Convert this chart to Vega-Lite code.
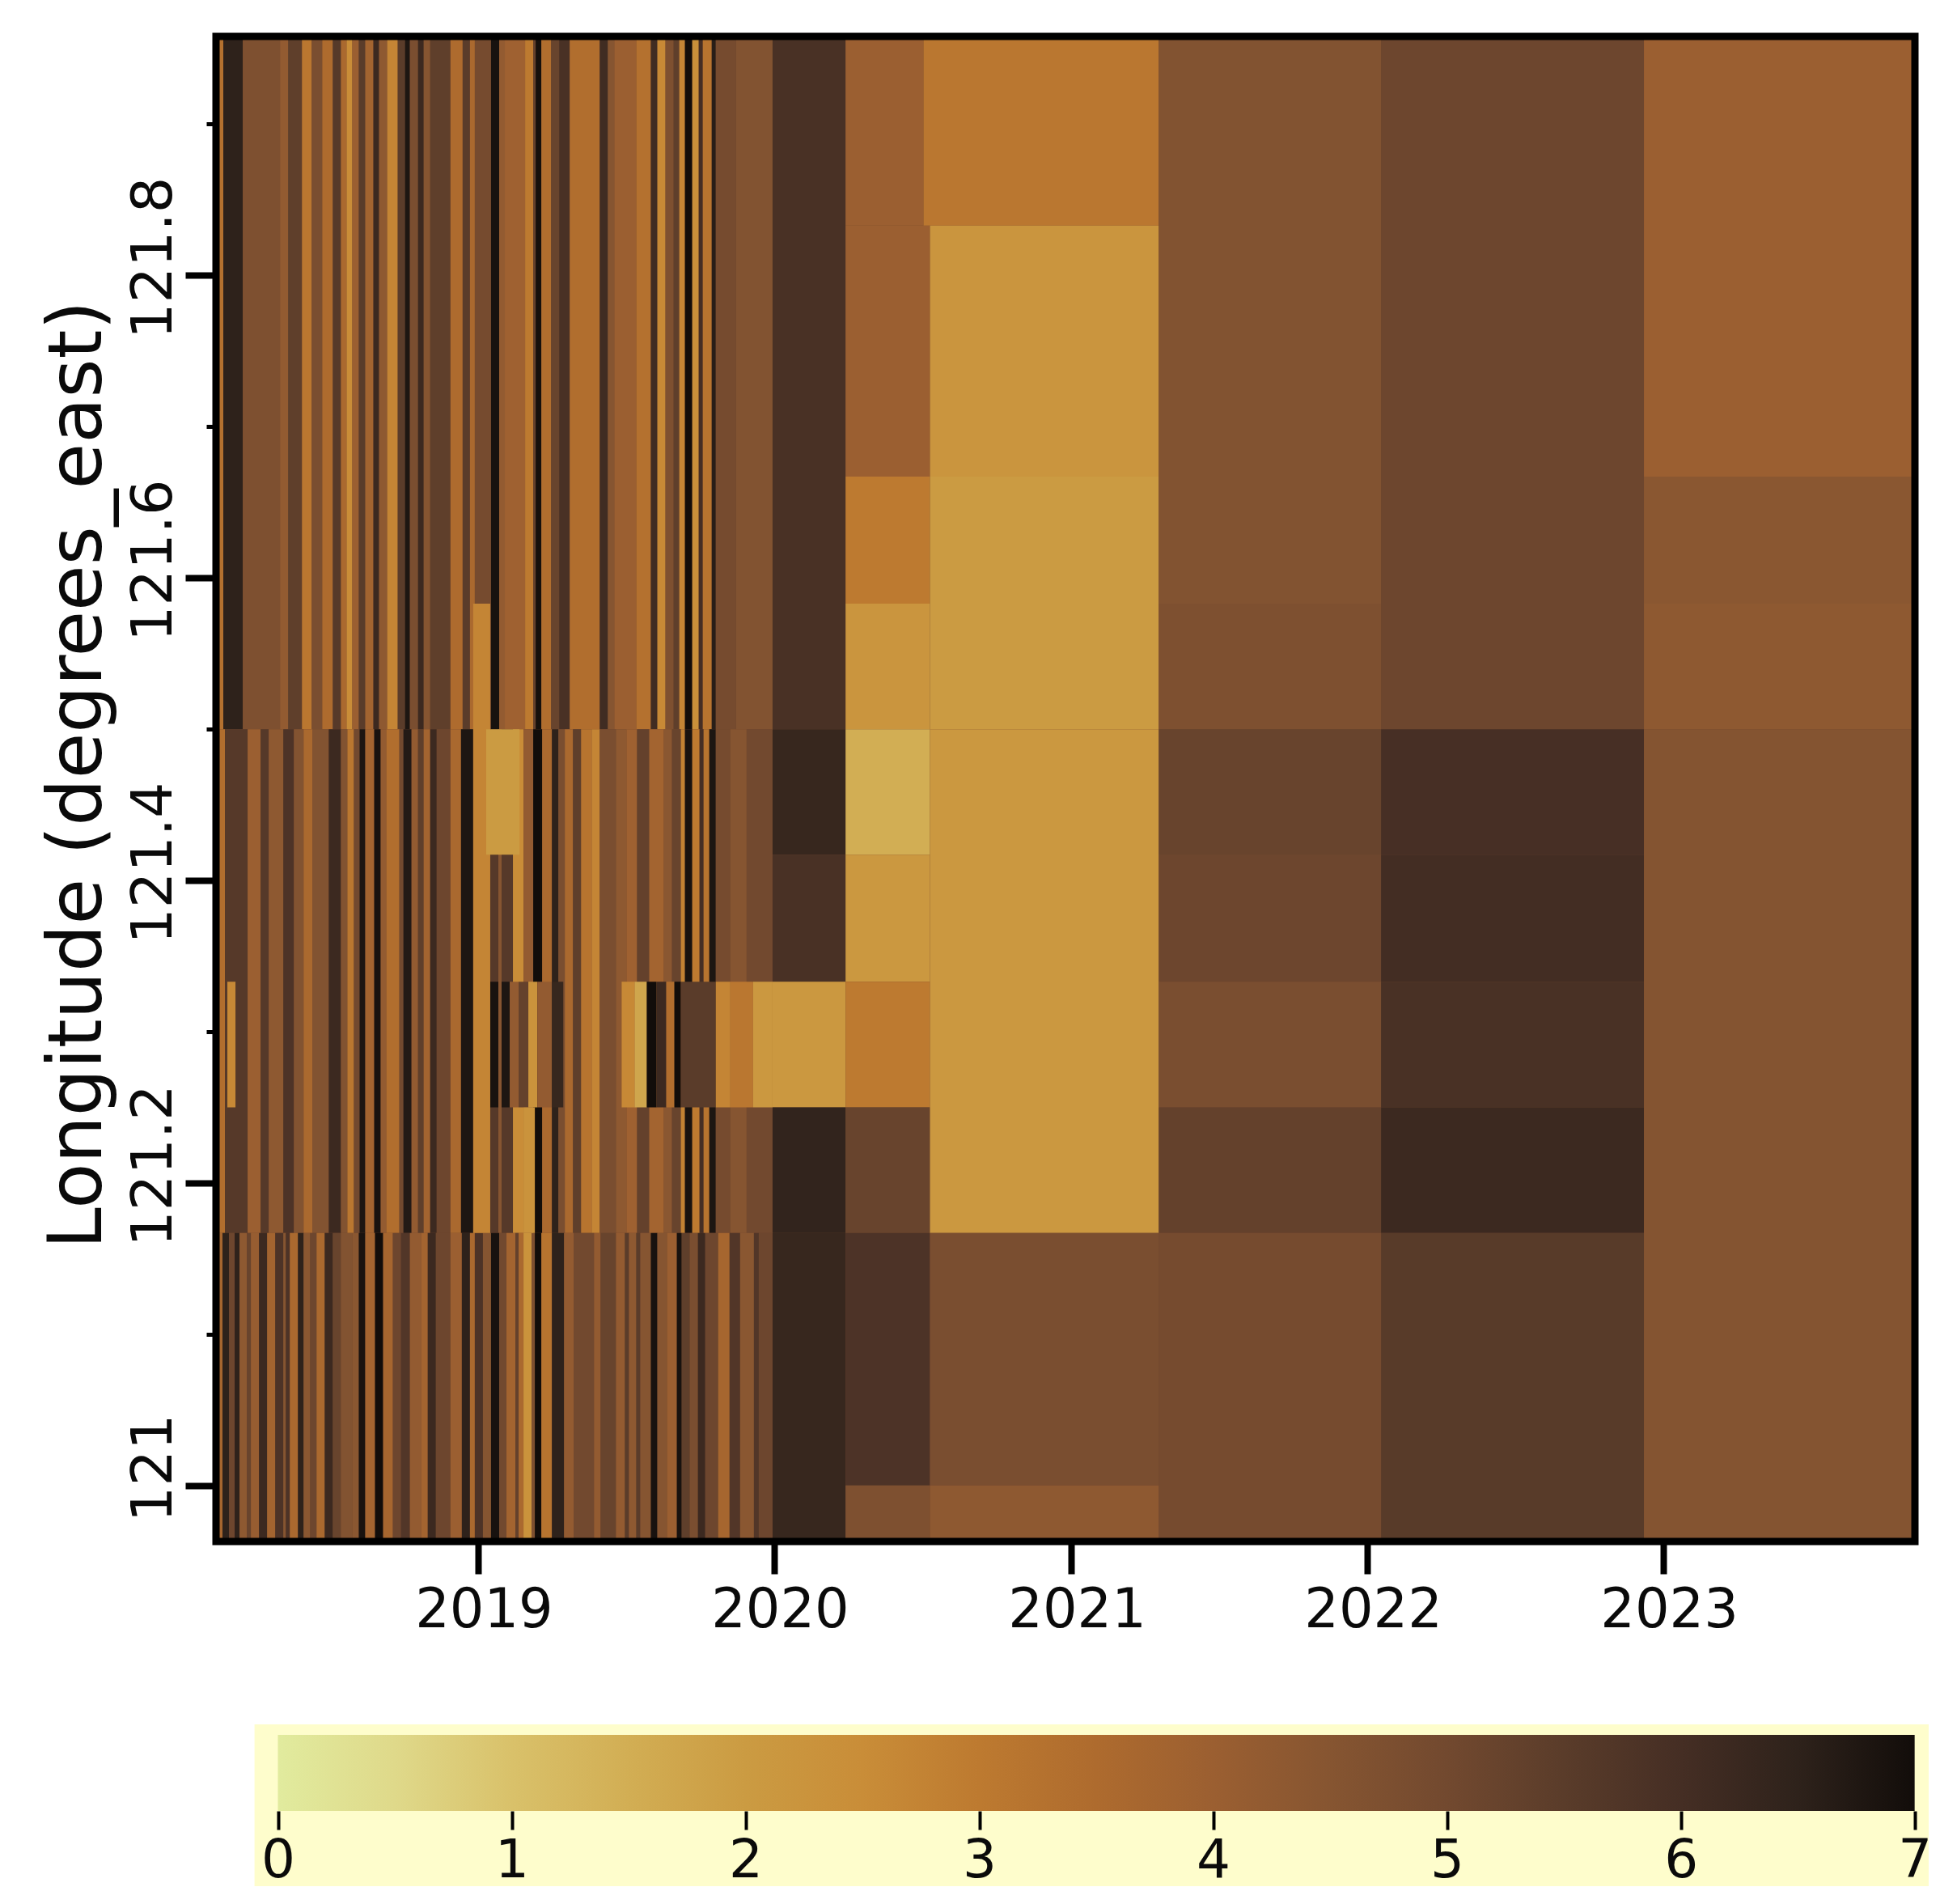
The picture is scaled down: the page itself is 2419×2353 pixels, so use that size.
{"$schema":"https://vega.github.io/schema/vega-lite/v6.json","background":"white","padding":{"left":50,"top":40,"right":0,"bottom":0},"bounds":"flush","spacing":226,"config":{"view":{"stroke":null},"font":"DejaVu Sans","axis":{"labelFont":"DejaVu Sans","titleFont":"DejaVu Sans","labelColor":"#0a0a0a","titleColor":"#0a0a0a"}},"datasets":{"cells":[
{"s":"2018-02-12","e":"2018-02-21","a":121.5,"b":121.958,"v":3.3},{"s":"2018-02-21","e":"2018-03-17","a":121.5,"b":121.958,"v":6.5},{"s":"2018-03-17","e":"2018-05-02","a":121.5,"b":121.958,"v":4.7},{"s":"2018-05-02","e":"2018-05-12","a":121.5,"b":121.958,"v":4.2},{"s":"2018-05-12","e":"2018-05-29","a":121.5,"b":121.958,"v":5.4},{"s":"2018-05-29","e":"2018-06-10","a":121.5,"b":121.958,"v":3.1},{"s":"2018-06-10","e":"2018-06-23","a":121.5,"b":121.958,"v":4.8},{"s":"2018-06-23","e":"2018-07-06","a":121.5,"b":121.958,"v":3.5},{"s":"2018-07-06","e":"2018-07-16","a":121.5,"b":121.958,"v":5.6},{"s":"2018-07-16","e":"2018-07-23","a":121.5,"b":121.958,"v":3.6},{"s":"2018-07-23","e":"2018-07-30","a":121.5,"b":121.958,"v":2.5},{"s":"2018-07-30","e":"2018-08-07","a":121.5,"b":121.958,"v":4.0},{"s":"2018-08-07","e":"2018-08-15","a":121.5,"b":121.958,"v":5.5},{"s":"2018-08-15","e":"2018-08-25","a":121.5,"b":121.958,"v":3.8},{"s":"2018-08-25","e":"2018-09-01","a":121.5,"b":121.958,"v":6.2},{"s":"2018-09-01","e":"2018-09-11","a":121.5,"b":121.958,"v":4.3},{"s":"2018-09-11","e":"2018-09-24","a":121.5,"b":121.958,"v":2.7},{"s":"2018-09-24","e":"2018-10-03","a":121.5,"b":121.958,"v":5.5},{"s":"2018-10-03","e":"2018-10-09","a":121.5,"b":121.958,"v":6.8},{"s":"2018-10-09","e":"2018-10-19","a":121.5,"b":121.958,"v":4.8},{"s":"2018-10-19","e":"2018-10-26","a":121.5,"b":121.958,"v":6.2},{"s":"2018-10-26","e":"2018-11-03","a":121.5,"b":121.958,"v":4.5},{"s":"2018-11-03","e":"2018-11-28","a":121.5,"b":121.958,"v":5.4},{"s":"2018-11-28","e":"2018-12-13","a":121.5,"b":121.958,"v":3.5},{"s":"2018-12-13","e":"2018-12-22","a":121.5,"b":121.958,"v":5.5},{"s":"2018-12-22","e":"2018-12-28","a":121.5,"b":121.958,"v":3.6},{"s":"2018-12-28","e":"2019-01-17","a":121.5,"b":121.958,"v":4.9},{"s":"2019-01-17","e":"2019-01-27","a":121.5,"b":121.958,"v":6.9},{"s":"2019-01-27","e":"2019-02-03","a":121.5,"b":121.958,"v":4.2},{"s":"2019-02-03","e":"2019-02-28","a":121.5,"b":121.958,"v":3.9},{"s":"2019-02-28","e":"2019-03-10","a":121.5,"b":121.958,"v":3.0},{"s":"2019-03-10","e":"2019-03-13","a":121.5,"b":121.958,"v":5.3},{"s":"2019-03-13","e":"2019-03-20","a":121.5,"b":121.958,"v":6.95},{"s":"2019-03-20","e":"2019-04-01","a":121.5,"b":121.958,"v":3.4},{"s":"2019-04-01","e":"2019-04-11","a":121.5,"b":121.958,"v":5.2},{"s":"2019-04-11","e":"2019-04-24","a":121.5,"b":121.958,"v":5.9},{"s":"2019-04-24","e":"2019-05-31","a":121.5,"b":121.958,"v":3.4},{"s":"2019-05-31","e":"2019-06-10","a":121.5,"b":121.958,"v":6.1},{"s":"2019-06-10","e":"2019-06-18","a":121.5,"b":121.958,"v":4.5},{"s":"2019-06-18","e":"2019-07-15","a":121.5,"b":121.958,"v":4.0},{"s":"2019-07-15","e":"2019-08-02","a":121.5,"b":121.958,"v":3.3},{"s":"2019-08-02","e":"2019-08-10","a":121.5,"b":121.958,"v":6.1},{"s":"2019-08-10","e":"2019-08-20","a":121.5,"b":121.958,"v":2.6},{"s":"2019-08-20","e":"2019-08-30","a":121.5,"b":121.958,"v":4.7},{"s":"2019-08-30","e":"2019-09-06","a":121.5,"b":121.958,"v":5.4},{"s":"2019-09-06","e":"2019-09-13","a":121.5,"b":121.958,"v":2.7},{"s":"2019-09-13","e":"2019-09-22","a":121.5,"b":121.958,"v":7},{"s":"2019-09-22","e":"2019-09-30","a":121.5,"b":121.958,"v":2.4},{"s":"2019-09-30","e":"2019-10-05","a":121.5,"b":121.958,"v":6},{"s":"2019-10-05","e":"2019-10-16","a":121.5,"b":121.958,"v":3.2},{"s":"2019-10-16","e":"2019-10-21","a":121.5,"b":121.958,"v":6.6},{"s":"2019-10-21","e":"2019-11-15","a":121.5,"b":121.958,"v":4.9},{"s":"2019-11-15","e":"2019-12-30","a":121.5,"b":121.958,"v":4.6},
{"s":"2018-02-12","e":"2018-02-23","a":121.167,"b":121.5,"v":3.4},{"s":"2018-02-23","e":"2018-03-23","a":121.167,"b":121.5,"v":5.6},{"s":"2018-03-23","e":"2018-04-08","a":121.167,"b":121.5,"v":4.0},{"s":"2018-04-08","e":"2018-04-18","a":121.167,"b":121.5,"v":5.6},{"s":"2018-04-18","e":"2018-05-06","a":121.167,"b":121.5,"v":4.3},{"s":"2018-05-06","e":"2018-05-19","a":121.167,"b":121.5,"v":5.8},{"s":"2018-05-19","e":"2018-05-31","a":121.167,"b":121.5,"v":4.6},{"s":"2018-05-31","e":"2018-06-11","a":121.167,"b":121.5,"v":3.6},{"s":"2018-06-11","e":"2018-07-01","a":121.167,"b":121.5,"v":4.6},{"s":"2018-07-01","e":"2018-07-16","a":121.167,"b":121.5,"v":6.2},{"s":"2018-07-16","e":"2018-07-24","a":121.167,"b":121.5,"v":4.6},{"s":"2018-07-24","e":"2018-08-01","a":121.167,"b":121.5,"v":3.1},{"s":"2018-08-01","e":"2018-08-08","a":121.167,"b":121.5,"v":5},{"s":"2018-08-08","e":"2018-08-15","a":121.167,"b":121.5,"v":6.8},{"s":"2018-08-15","e":"2018-08-26","a":121.167,"b":121.5,"v":3.8},{"s":"2018-08-26","e":"2018-09-03","a":121.167,"b":121.5,"v":6.9},{"s":"2018-09-03","e":"2018-09-10","a":121.167,"b":121.5,"v":4.2},{"s":"2018-09-10","e":"2018-09-26","a":121.167,"b":121.5,"v":3.4},{"s":"2018-09-26","e":"2018-10-01","a":121.167,"b":121.5,"v":5},{"s":"2018-10-01","e":"2018-10-11","a":121.167,"b":121.5,"v":6.7},{"s":"2018-10-11","e":"2018-10-19","a":121.167,"b":121.5,"v":4.2},{"s":"2018-10-19","e":"2018-10-26","a":121.167,"b":121.5,"v":5.4},{"s":"2018-10-26","e":"2018-11-03","a":121.167,"b":121.5,"v":3.8},{"s":"2018-11-03","e":"2018-11-11","a":121.167,"b":121.5,"v":6.2},{"s":"2018-11-11","e":"2018-11-28","a":121.167,"b":121.5,"v":5.1},{"s":"2018-11-28","e":"2018-12-11","a":121.167,"b":121.5,"v":3.6},{"s":"2018-12-11","e":"2018-12-26","a":121.167,"b":121.5,"v":6.8},{"s":"2018-12-26","e":"2019-01-16","a":121.167,"b":121.5,"v":5},{"s":"2019-01-16","e":"2019-01-26","a":121.167,"b":121.5,"v":5.6},{"s":"2019-01-26","e":"2019-01-30","a":121.167,"b":121.5,"v":4.5},{"s":"2019-01-30","e":"2019-02-13","a":121.167,"b":121.5,"v":5.6},{"s":"2019-02-13","e":"2019-02-26","a":121.167,"b":121.5,"v":2.5},{"s":"2019-02-26","e":"2019-03-10","a":121.167,"b":121.5,"v":4.2},{"s":"2019-03-10","e":"2019-03-21","a":121.167,"b":121.5,"v":7},{"s":"2019-03-21","e":"2019-04-02","a":121.167,"b":121.5,"v":3.6},{"s":"2019-04-02","e":"2019-04-10","a":121.167,"b":121.5,"v":6.5},{"s":"2019-04-10","e":"2019-04-18","a":121.167,"b":121.5,"v":4.8},{"s":"2019-04-18","e":"2019-04-28","a":121.167,"b":121.5,"v":3.6},{"s":"2019-04-28","e":"2019-05-08","a":121.167,"b":121.5,"v":5.4},{"s":"2019-05-08","e":"2019-05-21","a":121.167,"b":121.5,"v":3.2},{"s":"2019-05-21","e":"2019-05-31","a":121.167,"b":121.5,"v":2.7},{"s":"2019-05-31","e":"2019-06-20","a":121.167,"b":121.5,"v":4.8},{"s":"2019-06-20","e":"2019-07-03","a":121.167,"b":121.5,"v":4.3},{"s":"2019-07-03","e":"2019-07-16","a":121.167,"b":121.5,"v":3.9},{"s":"2019-07-16","e":"2019-07-31","a":121.167,"b":121.5,"v":5.3},{"s":"2019-07-31","e":"2019-08-18","a":121.167,"b":121.5,"v":3.8},{"s":"2019-08-18","e":"2019-08-28","a":121.167,"b":121.5,"v":4.4},{"s":"2019-08-28","e":"2019-09-08","a":121.167,"b":121.5,"v":5.2},{"s":"2019-09-08","e":"2019-09-13","a":121.167,"b":121.5,"v":2.8},{"s":"2019-09-13","e":"2019-09-22","a":121.167,"b":121.5,"v":6.9},{"s":"2019-09-22","e":"2019-10-01","a":121.167,"b":121.5,"v":3},{"s":"2019-10-01","e":"2019-10-06","a":121.167,"b":121.5,"v":6},{"s":"2019-10-06","e":"2019-10-13","a":121.167,"b":121.5,"v":3.2},{"s":"2019-10-13","e":"2019-10-21","a":121.167,"b":121.5,"v":6.8},{"s":"2019-10-21","e":"2019-11-08","a":121.167,"b":121.5,"v":4.9},{"s":"2019-11-08","e":"2019-11-28","a":121.167,"b":121.5,"v":4.5},{"s":"2019-11-28","e":"2019-12-30","a":121.167,"b":121.5,"v":5},
{"s":"2018-02-12","e":"2018-02-20","a":120.963,"b":121.167,"v":3.7},{"s":"2018-02-20","e":"2018-02-28","a":120.963,"b":121.167,"v":6.5},{"s":"2018-02-28","e":"2018-03-07","a":120.963,"b":121.167,"v":5.1},{"s":"2018-03-07","e":"2018-03-13","a":120.963,"b":121.167,"v":6.5},{"s":"2018-03-13","e":"2018-03-22","a":120.963,"b":121.167,"v":4.3},{"s":"2018-03-22","e":"2018-03-27","a":120.963,"b":121.167,"v":5.2},{"s":"2018-03-27","e":"2018-04-06","a":120.963,"b":121.167,"v":4.1},{"s":"2018-04-06","e":"2018-04-16","a":120.963,"b":121.167,"v":6.2},{"s":"2018-04-16","e":"2018-04-26","a":120.963,"b":121.167,"v":3.8},{"s":"2018-04-26","e":"2018-05-06","a":120.963,"b":121.167,"v":5.8},{"s":"2018-05-06","e":"2018-05-09","a":120.963,"b":121.167,"v":4.5},{"s":"2018-05-09","e":"2018-05-14","a":120.963,"b":121.167,"v":5.8},{"s":"2018-05-14","e":"2018-05-24","a":120.963,"b":121.167,"v":3.6},{"s":"2018-05-24","e":"2018-05-31","a":120.963,"b":121.167,"v":6.5},{"s":"2018-05-31","e":"2018-06-08","a":120.963,"b":121.167,"v":4.4},{"s":"2018-06-08","e":"2018-06-16","a":120.963,"b":121.167,"v":5.1},{"s":"2018-06-16","e":"2018-06-26","a":120.963,"b":121.167,"v":3.6},{"s":"2018-06-26","e":"2018-07-06","a":120.963,"b":121.167,"v":6.2},{"s":"2018-07-06","e":"2018-07-16","a":120.963,"b":121.167,"v":5.2},{"s":"2018-07-16","e":"2018-07-30","a":120.963,"b":121.167,"v":4.6},{"s":"2018-07-30","e":"2018-08-07","a":120.963,"b":121.167,"v":4.4},{"s":"2018-08-07","e":"2018-08-15","a":120.963,"b":121.167,"v":6.9},{"s":"2018-08-15","e":"2018-08-27","a":120.963,"b":121.167,"v":3.8},{"s":"2018-08-27","e":"2018-09-06","a":120.963,"b":121.167,"v":7},{"s":"2018-09-06","e":"2018-09-18","a":120.963,"b":121.167,"v":3.7},{"s":"2018-09-18","e":"2018-09-28","a":120.963,"b":121.167,"v":5.1},{"s":"2018-09-28","e":"2018-10-09","a":120.963,"b":121.167,"v":5.7},{"s":"2018-10-09","e":"2018-10-23","a":120.963,"b":121.167,"v":4.2},{"s":"2018-10-23","e":"2018-10-31","a":120.963,"b":121.167,"v":3.8},{"s":"2018-10-31","e":"2018-11-10","a":120.963,"b":121.167,"v":6.2},{"s":"2018-11-10","e":"2018-11-28","a":120.963,"b":121.167,"v":5.1},{"s":"2018-11-28","e":"2018-12-12","a":120.963,"b":121.167,"v":4.0},{"s":"2018-12-12","e":"2018-12-22","a":120.963,"b":121.167,"v":6.5},{"s":"2018-12-22","e":"2018-12-28","a":120.963,"b":121.167,"v":3.6},{"s":"2018-12-28","e":"2019-01-07","a":120.963,"b":121.167,"v":5.8},{"s":"2019-01-07","e":"2019-01-17","a":120.963,"b":121.167,"v":4.5},{"s":"2019-01-17","e":"2019-01-27","a":120.963,"b":121.167,"v":6.9},{"s":"2019-01-27","e":"2019-02-05","a":120.963,"b":121.167,"v":5},{"s":"2019-02-05","e":"2019-02-16","a":120.963,"b":121.167,"v":3.8},{"s":"2019-02-16","e":"2019-02-20","a":120.963,"b":121.167,"v":5.3},{"s":"2019-02-20","e":"2019-02-26","a":120.963,"b":121.167,"v":3.6},{"s":"2019-02-26","e":"2019-03-08","a":120.963,"b":121.167,"v":2.3},{"s":"2019-03-08","e":"2019-03-12","a":120.963,"b":121.167,"v":4.7},{"s":"2019-03-12","e":"2019-03-20","a":120.963,"b":121.167,"v":7},{"s":"2019-03-20","e":"2019-04-02","a":120.963,"b":121.167,"v":3.2},{"s":"2019-04-02","e":"2019-04-17","a":120.963,"b":121.167,"v":6.5},{"s":"2019-04-17","e":"2019-04-29","a":120.963,"b":121.167,"v":4.2},{"s":"2019-04-29","e":"2019-05-24","a":120.963,"b":121.167,"v":5},{"s":"2019-05-24","e":"2019-06-01","a":120.963,"b":121.167,"v":4.2},{"s":"2019-06-01","e":"2019-06-20","a":120.963,"b":121.167,"v":5.2},{"s":"2019-06-20","e":"2019-07-01","a":120.963,"b":121.167,"v":4.2},{"s":"2019-07-01","e":"2019-07-06","a":120.963,"b":121.167,"v":5.5},{"s":"2019-07-06","e":"2019-07-15","a":120.963,"b":121.167,"v":4.3},{"s":"2019-07-15","e":"2019-07-20","a":120.963,"b":121.167,"v":5.5},{"s":"2019-07-20","e":"2019-08-02","a":120.963,"b":121.167,"v":4.5},{"s":"2019-08-02","e":"2019-08-10","a":120.963,"b":121.167,"v":6.9},{"s":"2019-08-10","e":"2019-08-22","a":120.963,"b":121.167,"v":4.5},{"s":"2019-08-22","e":"2019-09-03","a":120.963,"b":121.167,"v":4.0},{"s":"2019-09-03","e":"2019-09-09","a":120.963,"b":121.167,"v":6.9},{"s":"2019-09-09","e":"2019-09-19","a":120.963,"b":121.167,"v":5.4},{"s":"2019-09-19","e":"2019-09-29","a":120.963,"b":121.167,"v":4.8},{"s":"2019-09-29","e":"2019-10-08","a":120.963,"b":121.167,"v":6.2},{"s":"2019-10-08","e":"2019-10-24","a":120.963,"b":121.167,"v":5.1},{"s":"2019-10-24","e":"2019-11-07","a":120.963,"b":121.167,"v":3.7},{"s":"2019-11-07","e":"2019-11-20","a":120.963,"b":121.167,"v":5.7},{"s":"2019-11-20","e":"2019-12-07","a":120.963,"b":121.167,"v":4.4},{"s":"2019-12-07","e":"2019-12-13","a":120.963,"b":121.167,"v":5.7},{"s":"2019-12-13","e":"2019-12-30","a":120.963,"b":121.167,"v":5.1},
{"s":"2018-02-26","e":"2018-03-08","a":121.25,"b":121.333,"v":2.6},{"s":"2019-01-16","e":"2019-01-26","a":121.25,"b":121.333,"v":6.9},{"s":"2019-01-30","e":"2019-02-09","a":121.25,"b":121.333,"v":6.8},{"s":"2019-02-09","e":"2019-02-20","a":121.25,"b":121.333,"v":4.2},{"s":"2019-02-20","e":"2019-03-04","a":121.25,"b":121.333,"v":5.3},{"s":"2019-03-04","e":"2019-03-15","a":121.25,"b":121.333,"v":2.3},{"s":"2019-03-15","e":"2019-04-02","a":121.25,"b":121.333,"v":4.2},{"s":"2019-04-02","e":"2019-04-16","a":121.25,"b":121.333,"v":6.3},{"s":"2019-06-27","e":"2019-07-13","a":121.25,"b":121.333,"v":2.6},{"s":"2019-07-13","e":"2019-07-28","a":121.25,"b":121.333,"v":1.7},{"s":"2019-07-28","e":"2019-08-09","a":121.25,"b":121.333,"v":7},{"s":"2019-08-09","e":"2019-08-21","a":121.25,"b":121.333,"v":6.2},{"s":"2019-08-21","e":"2019-08-31","a":121.25,"b":121.333,"v":3.4},{"s":"2019-08-31","e":"2019-09-08","a":121.25,"b":121.333,"v":7},{"s":"2019-09-08","e":"2019-10-21","a":121.25,"b":121.333,"v":5.5},{"s":"2019-10-21","e":"2019-11-08","a":121.25,"b":121.333,"v":2.7},{"s":"2019-11-08","e":"2019-12-06","a":121.25,"b":121.333,"v":3.1},{"s":"2019-12-06","e":"2019-12-30","a":121.25,"b":121.333,"v":2.1},
{"s":"2018-12-26","e":"2019-01-16","a":121.167,"b":121.583,"v":2.7},{"s":"2019-01-11","e":"2019-02-21","a":121.417,"b":121.5,"v":2.0},{"s":"2019-02-26","e":"2019-03-12","a":121.167,"b":121.25,"v":2.3},
{"s":"2019-12-30","e":"2020-03-29","a":121.5,"b":121.958,"v":5.9},{"s":"2019-12-30","e":"2020-03-29","a":121.417,"b":121.5,"v":6.3},{"s":"2019-12-30","e":"2020-03-29","a":121.333,"b":121.417,"v":5.9},{"s":"2019-12-30","e":"2020-03-29","a":121.25,"b":121.333,"v":2.1},{"s":"2019-12-30","e":"2020-03-29","a":121.167,"b":121.25,"v":6.4},{"s":"2019-12-30","e":"2020-03-29","a":120.963,"b":121.167,"v":6.3},
{"s":"2020-03-29","e":"2020-07-03","a":121.833,"b":121.958,"v":4.0},{"s":"2020-03-29","e":"2020-07-11","a":121.667,"b":121.833,"v":4.0},{"s":"2020-03-29","e":"2020-07-11","a":121.583,"b":121.667,"v":3.0},{"s":"2020-03-29","e":"2020-07-11","a":121.5,"b":121.583,"v":2.2},{"s":"2020-03-29","e":"2020-07-11","a":121.417,"b":121.5,"v":1.5},{"s":"2020-03-29","e":"2020-07-11","a":121.333,"b":121.417,"v":2.1},{"s":"2020-03-29","e":"2020-07-11","a":121.25,"b":121.333,"v":3.0},{"s":"2020-03-29","e":"2020-07-11","a":121.167,"b":121.25,"v":5.2},{"s":"2020-03-29","e":"2020-07-11","a":121,"b":121.167,"v":5.8},{"s":"2020-03-29","e":"2020-07-11","a":120.963,"b":121,"v":4.7},
{"s":"2020-07-03","e":"2021-04-19","a":121.833,"b":121.958,"v":3.1},{"s":"2020-07-11","e":"2021-04-19","a":121.667,"b":121.833,"v":2.2},{"s":"2020-07-11","e":"2021-04-19","a":121.5,"b":121.667,"v":2.0},{"s":"2020-07-11","e":"2021-04-19","a":121.167,"b":121.5,"v":2.1},{"s":"2020-07-11","e":"2021-04-19","a":121,"b":121.167,"v":4.8},{"s":"2020-07-11","e":"2021-04-19","a":120.963,"b":121,"v":4.3},
{"s":"2021-04-19","e":"2022-01-18","a":121.583,"b":121.958,"v":4.6},{"s":"2021-04-19","e":"2022-01-18","a":121.5,"b":121.583,"v":4.7},{"s":"2021-04-19","e":"2022-01-18","a":121.417,"b":121.5,"v":5.2},{"s":"2021-04-19","e":"2022-01-18","a":121.333,"b":121.417,"v":5.1},{"s":"2021-04-19","e":"2022-01-18","a":121.25,"b":121.333,"v":4.8},{"s":"2021-04-19","e":"2022-01-18","a":121.167,"b":121.25,"v":5.3},{"s":"2021-04-19","e":"2022-01-18","a":120.963,"b":121.167,"v":4.9},
{"s":"2022-01-18","e":"2022-12-08","a":121.5,"b":121.958,"v":5.1},{"s":"2022-01-18","e":"2022-12-08","a":121.417,"b":121.5,"v":5.95},{"s":"2022-01-18","e":"2022-12-08","a":121.333,"b":121.417,"v":6.05},{"s":"2022-01-18","e":"2022-12-08","a":121.25,"b":121.333,"v":5.9},{"s":"2022-01-18","e":"2022-12-08","a":121.167,"b":121.25,"v":6.2},{"s":"2022-01-18","e":"2022-12-08","a":120.963,"b":121.167,"v":5.55},
{"s":"2022-12-08","e":"2023-11-07","a":121.667,"b":121.958,"v":4.0},{"s":"2022-12-08","e":"2023-11-07","a":121.583,"b":121.667,"v":4.4},{"s":"2022-12-08","e":"2023-11-07","a":121.5,"b":121.583,"v":4.3},{"s":"2022-12-08","e":"2023-11-07","a":120.963,"b":121.5,"v":4.55}
]},"vconcat":[{"width":2100,"height":1860,"view":{"fill":"#6f462f"},"layer":[{"data":{"name":"cells"},"mark":{"type":"rect","strokeWidth":0},"encoding":{"x":{"field":"s","type":"temporal","scale":{"type":"utc","domain":["2018-02-12","2023-11-07"]},"axis":{"format":"%Y","tickCount":{"interval":"year","step":1},"grid":false,"domain":false,"title":null,"tickSize":40,"tickWidth":8,"tickColor":"#000","labelFontSize":67,"labelPadding":12,"labelOffset":7,"labelFlush":false,"labelOverlap":false}},"x2":{"field":"e"},"y":{"field":"a","type":"quantitative","scale":{"domain":[120.963,121.958],"nice":false,"zero":false},"axis":{"values":[121,121.1,121.2,121.3,121.4,121.5,121.6,121.7,121.8,121.9],"labelExpr":"round(datum.value*10)%2==0 ? format(datum.value,'~f') : ''","grid":false,"domain":false,"title":"Longitude (degrees_east)","titleFontSize":92,"titleFontWeight":"normal","titleBaseline":"alphabetic","titleX":-143,"titleY":912,"tickSize":{"condition":{"test":"round(datum.value*10)%2==0","value":38},"value":12},"tickWidth":{"condition":{"test":"round(datum.value*10)%2==0","value":8},"value":5},"tickColor":"#000","labelFontSize":70,"labelLimit":500,"labelAngle":-90,"labelAlign":"center","labelBaseline":"bottom","labelPadding":3,"labelOffset":-22,"labelFlush":false,"labelOverlap":false}},"y2":{"field":"b"},"color":{"field":"v","type":"quantitative","legend":null,"scale":{"domain":[0,0.5,1,1.5,2,2.5,3,3.5,4,4.5,5,5.5,6,6.5,7],"range":["#e1eb9e","#dfd98a","#d9c16a","#d2ae54","#cb9b42","#c98d38","#bd7a30","#ae6b2e","#9b5f31","#865531","#72492f","#5a3c2a","#452e24","#2e221b","#120d0a"]}}}},{"data":{"values":[{"frame":"plot"}]},"mark":{"type":"rect","filled":false,"stroke":"#000","strokeWidth":9},"encoding":{"x":{"datum":{"year":2018,"month":2,"date":12,"utc":true},"type":"temporal"},"x2":{"datum":{"year":2023,"month":11,"date":7,"utc":true}},"y":{"datum":120.963,"type":"quantitative"},"y2":{"datum":121.958}}}]},{"width":2117,"height":200,"data":{"values":[{"part":"bar"}]},"layer":[{"mark":{"type":"rect","color":"#fefdcc","strokeWidth":0},"encoding":{"x":{"datum":-0.1,"type":"quantitative","scale":{"domain":[-0.2647,7.06],"nice":false,"zero":false},"axis":{"values":[0,1,2,3,4,5,6,7],"format":"d","orient":"bottom","offset":-93,"domain":false,"grid":false,"title":null,"zindex":1,"tickSize":23,"tickWidth":4,"tickColor":"#000","labelFontSize":66,"labelPadding":6,"labelFlush":false,"labelOverlap":false,"labelBound":false}},"x2":{"datum":7.06},"y":{"datum":0,"type":"quantitative","scale":{"domain":[0,200],"nice":false},"axis":null},"y2":{"datum":200}}},{"mark":{"type":"rect","strokeWidth":0,"color":{"gradient":"linear","x1":0,"x2":1,"y1":0,"y2":0,"stops":[{"offset":0,"color":"#e1eb9e"},{"offset":0.0714,"color":"#dfd98a"},{"offset":0.1429,"color":"#d9c16a"},{"offset":0.2143,"color":"#d2ae54"},{"offset":0.2857,"color":"#cb9b42"},{"offset":0.3571,"color":"#c98d38"},{"offset":0.4286,"color":"#bd7a30"},{"offset":0.5,"color":"#ae6b2e"},{"offset":0.5714,"color":"#9b5f31"},{"offset":0.6429,"color":"#865531"},{"offset":0.7143,"color":"#72492f"},{"offset":0.7857,"color":"#5a3c2a"},{"offset":0.8571,"color":"#452e24"},{"offset":0.9286,"color":"#2e221b"},{"offset":1,"color":"#120d0a"}]}},"encoding":{"x":{"datum":0,"type":"quantitative"},"x2":{"datum":7},"y":{"datum":93,"type":"quantitative"},"y2":{"datum":187}}}]}]}
